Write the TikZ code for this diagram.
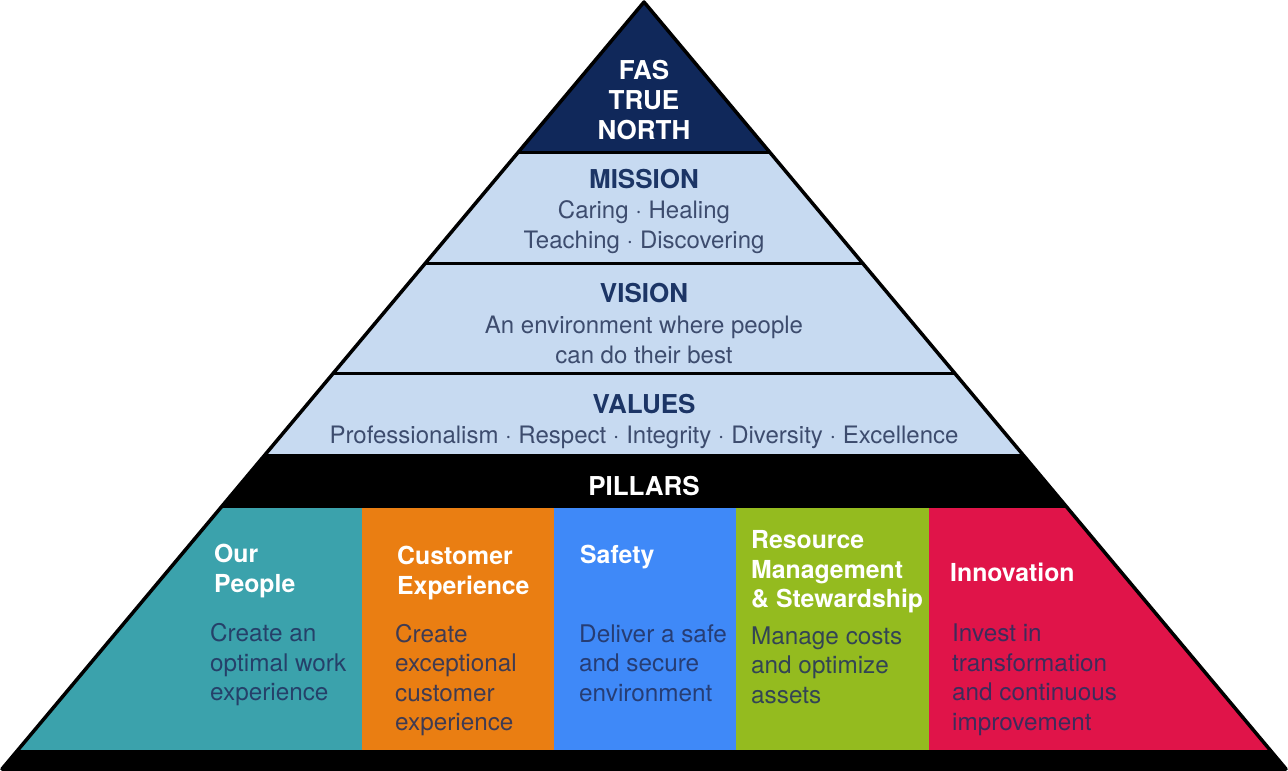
\documentclass[tikz,border=0pt]{standalone}
\usepackage{fontspec}
\setmainfont{TeX Gyre Heros}
\definecolor{navy}{HTML}{10285A}
\definecolor{layerblue}{HTML}{C7DAF1}
\definecolor{headnavy}{HTML}{1C3566}
\definecolor{bodyslate}{HTML}{3D4C6E}
\definecolor{pteal}{HTML}{3BA2AC}
\definecolor{porange}{HTML}{EA7E12}
\definecolor{pblue}{HTML}{3F89F8}
\definecolor{pgreen}{HTML}{94BB1F}
\definecolor{pred}{HTML}{E01449}
\definecolor{desc}{HTML}{22305E}
\tikzset{
  toptext/.style={text=white, font=\bfseries\fontsize{26}{30}\selectfont, align=center},
  layerhead/.style={text=headnavy, font=\bfseries\fontsize{26}{30}\selectfont},
  layerbody/.style={text=bodyslate, font=\fontsize{24}{29.5}\selectfont, align=center},
  pillarhead/.style={text=white, font=\bfseries\fontsize{24.8}{29.5}\selectfont, align=left, anchor=west, inner sep=0pt},
  pillarbody/.style={text=desc, text opacity=0.85, font=\fontsize{24.3}{29.5}\selectfont, align=left, anchor=west, inner sep=0pt},
  sepline/.style={line width=3pt, draw=black}
}
\begin{document}
\begin{tikzpicture}[x=1pt,y=-1pt]
\useasboundingbox (0,0) rectangle (1288,771);
\coordinate (apex) at (644,2);
\coordinate (bl) at (2,769);
\coordinate (br) at (1286,769);
\begin{scope}
\clip (apex) -- (bl) -- (br) -- cycle;
\fill[navy] (0,0) rectangle (1288,152);
\fill[layerblue] (0,152) rectangle (1288,454);
\fill[black] (0,454) rectangle (1288,508);
\fill[pteal] (0,508) rectangle (362,750);
\fill[porange] (362,508) rectangle (554,750);
\fill[pblue] (554,508) rectangle (736,750);
\fill[pgreen] (736,508) rectangle (929,750);
\fill[pred] (929,508) rectangle (1288,750);
\fill[black] (0,750) rectangle (1288,771);
\draw[sepline] (0,152) -- (1288,152);
\draw[sepline] (0,263) -- (1288,263);
\draw[sepline] (0,373) -- (1288,373);
\end{scope}
\draw[line width=3.5pt, line join=round] (apex) -- (bl) -- (br) -- cycle;

% top
\node[toptext] (fas) at (644,100) {FAS\\TRUE\\NORTH};
% mission
\node[layerhead] (mission) at (644,179) {MISSION};
\node[layerbody] (missiontxt) at (644,227) {Caring · Healing\\Teaching · Discovering};
% vision
\node[layerhead] (vision) at (644,293) {VISION};
\node[layerbody] (visiontxt) at (644,340) {An environment where people\\can do their best};
% values
\node[layerhead] (values) at (644,404) {VALUES};
\node[layerbody] (valuestxt) at (644,437) {Professionalism · Respect · Integrity · Diversity · Excellence};
% pillars
\node[toptext] (pillars) at (644,486) {PILLARS};

\node[pillarhead] (p1h) at (214,571) {Our\\People};
\node[pillarbody] (p1b) at (210,665) {Create an\\optimal work\\experience};

\node[pillarhead] (p2h) at (397,573) {Customer\\Experience};
\node[pillarbody] (p2b) at (395,680) {Create\\exceptional\\customer\\experience};

\node[pillarhead] (p3h) at (580,557) {Safety};
\node[pillarbody] (p3b) at (579,663) {Deliver a safe\\and secure\\environment};

\node[pillarhead] (p4h) at (751,572) {Resource\\Management\\\& Stewardship};
\node[pillarbody] (p4b) at (751,665) {Manage costs\\and optimize\\assets};

\node[pillarhead] (p5h) at (950,572) {Innovation};
\node[pillarbody] (p5b) at (952,680) {Invest in\\transformation\\and continuous\\improvement};
\end{tikzpicture}
\end{document}
